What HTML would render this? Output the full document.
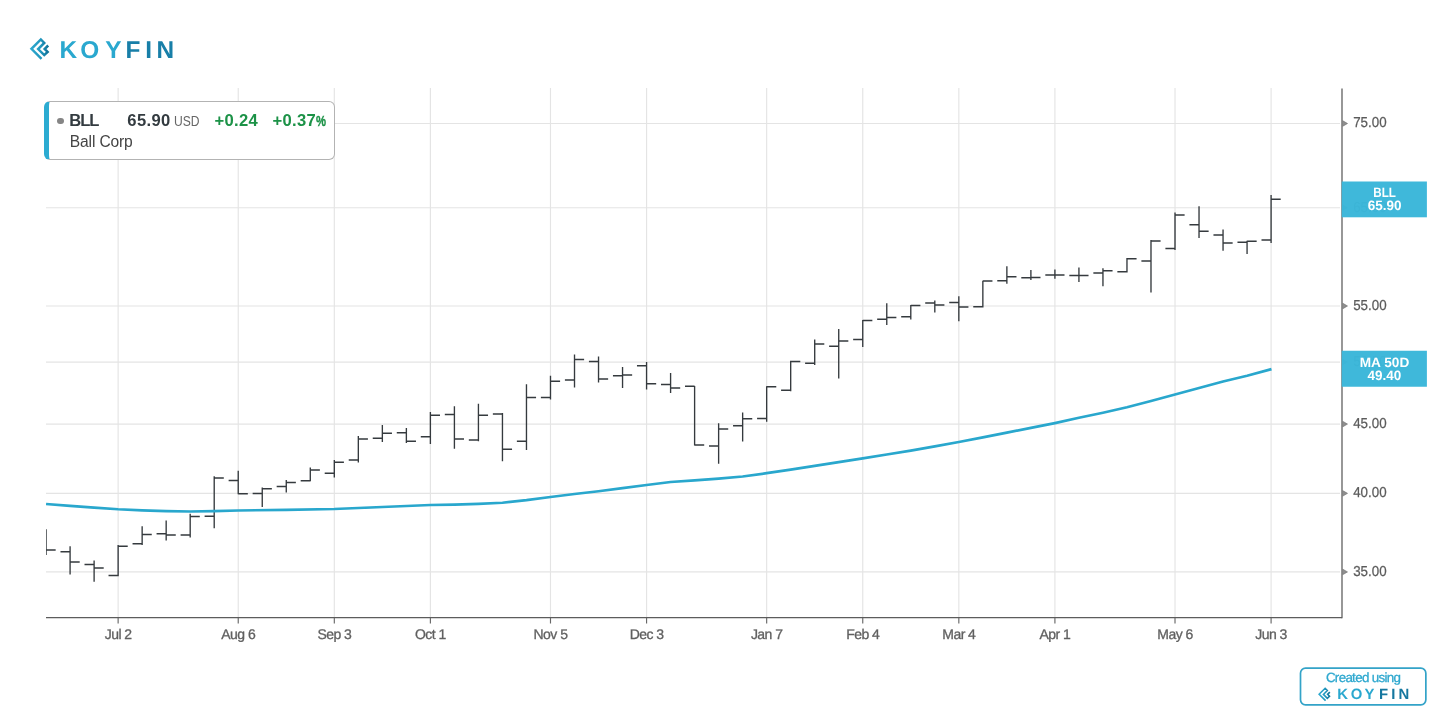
<!DOCTYPE html>
<html lang="en">
<head>
<meta charset="utf-8">
<title>BLL - Ball Corp - Koyfin</title>
<style>
html,body{margin:0;padding:0;background:#fff;}
body{width:1456px;height:728px;position:relative;overflow:hidden;font-family:"Liberation Sans",Arial,sans-serif;}
.chart{position:absolute;left:0;top:0;}
.logo{position:absolute;left:0;top:0;}
.legend{position:absolute;left:44px;top:101px;width:285px;height:57px;background:#fff;border:1px solid #b3b3b3;border-left:5px solid #2cabd1;border-radius:6px;box-sizing:content-box;}
.legend .dot{position:absolute;left:8.4px;top:15.6px;width:6.4px;height:6.4px;border-radius:50%;background:#858585;}
.legend span{position:absolute;white-space:nowrap;line-height:1;}
.tk{left:20.3px;top:10.6px;font-weight:bold;font-size:16.6px;color:#333b40;letter-spacing:-1.1px;}
.px{left:78.3px;top:10.6px;font-weight:bold;font-size:16.6px;color:#333b40;letter-spacing:0.35px;}
.cur{left:124.6px;top:12.4px;font-size:14px;color:#666;transform:scaleX(0.865);transform-origin:0 0;}
.ch1{left:165.5px;top:10.6px;font-weight:bold;font-size:16.6px;color:#1c9247;letter-spacing:0.3px;}
.ch2{left:223.5px;top:10.6px;font-weight:bold;font-size:16.6px;color:#1c9247;letter-spacing:0.3px;}
.ch2 small{font-size:15.2px;letter-spacing:0;display:inline-block;transform:scaleX(0.74);transform-origin:0 100%;margin-left:0.2px;-webkit-text-stroke:0.35px #1c9247;}
.nm{left:20.8px;top:31.5px;font-size:15.6px;color:#444;letter-spacing:-0.15px;}
.badge{position:absolute;left:1299px;top:667px;width:130px;height:40px;}
.badge svg{position:absolute;left:0;top:0;}
</style>
</head>
<body>
<svg class="chart" width="1456" height="728" viewBox="0 0 1456 728">
<g stroke="#e4e4e4" stroke-width="1.15" fill="none">
<line x1="118.13" y1="88" x2="118.13" y2="617"/>
<line x1="238.23" y1="88" x2="238.23" y2="617"/>
<line x1="334.31" y1="88" x2="334.31" y2="617"/>
<line x1="430.39" y1="88" x2="430.39" y2="617"/>
<line x1="550.49" y1="88" x2="550.49" y2="617"/>
<line x1="646.57" y1="88" x2="646.57" y2="617"/>
<line x1="766.67" y1="88" x2="766.67" y2="617"/>
<line x1="862.75" y1="88" x2="862.75" y2="617"/>
<line x1="958.83" y1="88" x2="958.83" y2="617"/>
<line x1="1054.91" y1="88" x2="1054.91" y2="617"/>
<line x1="1175.01" y1="88" x2="1175.01" y2="617"/>
<line x1="1271.09" y1="88" x2="1271.09" y2="617"/>
<line x1="46" y1="123.5" x2="1340" y2="123.5"/>
<line x1="46" y1="207.7" x2="1340" y2="207.7"/>
<line x1="46" y1="306.0" x2="1340" y2="306.0"/>
<line x1="46" y1="362.08" x2="1340" y2="362.08"/>
<line x1="46" y1="424.07" x2="1340" y2="424.07"/>
<line x1="46" y1="493.37" x2="1340" y2="493.37"/>
<line x1="46" y1="571.94" x2="1340" y2="571.94"/>
</g>
<g font-family="'Liberation Sans', Arial, sans-serif" font-size="14.4" fill="#5c5c5c" stroke="#5c5c5c" stroke-width="0.25" text-rendering="geometricPrecision">
<path d="M1342.5 120.6 L1347.5 123.5 L1342.5 126.4 Z" fill="#8f8f8f" stroke="#6c6c6c" stroke-width="0.6"/>
<text x="1353.2" y="127.45" textLength="33.4" lengthAdjust="spacingAndGlyphs">75.00</text>
<path d="M1342.5 204.8 L1347.5 207.7 L1342.5 210.6 Z" fill="#8f8f8f" stroke="#6c6c6c" stroke-width="0.6"/>
<text x="1353.2" y="211.65" textLength="33.4" lengthAdjust="spacingAndGlyphs">65.00</text>
<path d="M1342.5 303.1 L1347.5 306.0 L1342.5 308.9 Z" fill="#8f8f8f" stroke="#6c6c6c" stroke-width="0.6"/>
<text x="1353.2" y="309.95" textLength="33.4" lengthAdjust="spacingAndGlyphs">55.00</text>
<path d="M1342.5 359.18 L1347.5 362.08 L1342.5 364.98 Z" fill="#8f8f8f" stroke="#6c6c6c" stroke-width="0.6"/>
<text x="1353.2" y="366.03" textLength="33.4" lengthAdjust="spacingAndGlyphs">50.00</text>
<path d="M1342.5 421.17 L1347.5 424.07 L1342.5 426.97 Z" fill="#8f8f8f" stroke="#6c6c6c" stroke-width="0.6"/>
<text x="1353.2" y="428.02" textLength="33.4" lengthAdjust="spacingAndGlyphs">45.00</text>
<path d="M1342.5 490.47 L1347.5 493.37 L1342.5 496.27 Z" fill="#8f8f8f" stroke="#6c6c6c" stroke-width="0.6"/>
<text x="1353.2" y="497.32" textLength="33.4" lengthAdjust="spacingAndGlyphs">40.00</text>
<path d="M1342.5 569.04 L1347.5 571.94 L1342.5 574.84 Z" fill="#8f8f8f" stroke="#6c6c6c" stroke-width="0.6"/>
<text x="1353.2" y="575.89" textLength="33.4" lengthAdjust="spacingAndGlyphs">35.00</text>
</g>
<clipPath id="plot"><rect x="46.1" y="88" width="1296" height="530"/></clipPath>
<g stroke="#353a3e" stroke-width="1.35" fill="none" stroke-linecap="butt" clip-path="url(#plot)">
<path d="M46.07 529.25V555M46.07 550H55.67"/>
<path d="M70.09 546.25V574.5M60.49 551.75H70.09M70.09 562H79.69"/>
<path d="M94.11 560.5V581.75M84.51 564.5H94.11M94.11 568H103.71"/>
<path d="M118.13 545V576.25M108.53 575.5H118.13M118.13 546.25H127.72999999999999"/>
<path d="M142.15 526.25V545M132.55 543.75H142.15M142.15 534.5H151.75"/>
<path d="M166.17 520.5V540.5M156.57 533.75H166.17M166.17 535H175.76999999999998"/>
<path d="M190.19 513.75V537.5M180.59 535H190.19M190.19 516.5H199.79"/>
<path d="M214.21 476.25V528.25M204.61 516.25H214.21M214.21 478H223.81"/>
<path d="M238.23 470.75V494.25M228.63 480.5H238.23M238.23 493.75H247.82999999999998"/>
<path d="M262.25 487.5V507M252.65 493.5H262.25M262.25 488.75H271.85"/>
<path d="M286.27 480V492.5M276.66999999999996 486.5H286.27M286.27 482.5H295.87"/>
<path d="M310.29 467.5V481.25M300.69 480.75H310.29M310.29 470H319.89000000000004"/>
<path d="M334.31 460V477.5M324.71 473.25H334.31M334.31 462.25H343.91"/>
<path d="M358.33 436V462.5M348.72999999999996 460H358.33M358.33 439H367.93"/>
<path d="M382.35 425V442M372.75 438.25H382.35M382.35 433.25H391.95000000000005"/>
<path d="M406.37 428V443M396.77 432.75H406.37M406.37 441.25H415.97"/>
<path d="M430.39 412V444M420.78999999999996 436.75H430.39M430.39 415.25H439.99"/>
<path d="M454.41 406.25V448.75M444.81 414.5H454.41M454.41 439H464.01000000000005"/>
<path d="M478.43 403.75V441.25M468.83 440H478.43M478.43 415.25H488.03000000000003"/>
<path d="M502.45 413V461.25M492.84999999999997 414H502.45M502.45 449.25H512.05"/>
<path d="M526.47 384.25V450M516.87 441.25H526.47M526.47 397.5H536.07"/>
<path d="M550.49 375.75V399.5M540.89 397.5H550.49M550.49 381.25H560.09"/>
<path d="M574.51 354.5V387.5M564.91 380H574.51M574.51 359.5H584.11"/>
<path d="M598.53 356.5V382.5M588.93 361.5H598.53M598.53 379H608.13"/>
<path d="M622.55 367V388M612.9499999999999 375.75H622.55M622.55 375H632.15"/>
<path d="M646.57 362V389.5M636.97 365.75H646.57M646.57 383.75H656.1700000000001"/>
<path d="M670.59 373V393M660.99 384.5H670.59M670.59 388H680.19"/>
<path d="M694.61 386V445.5M685.01 386.25H694.61M694.61 445H704.21"/>
<path d="M718.63 423.25V463.75M709.03 446H718.63M718.63 429H728.23"/>
<path d="M742.65 412.5V441.5M733.05 425.75H742.65M742.65 418.75H752.25"/>
<path d="M766.67 386.25V421.75M757.0699999999999 418.5H766.67M766.67 386.75H776.27"/>
<path d="M790.69 360.75V391.25M781.09 390.25H790.69M790.69 361.5H800.2900000000001"/>
<path d="M814.71 339.5V365M805.11 363.25H814.71M814.71 344H824.3100000000001"/>
<path d="M838.73 329V378.5M829.13 346.25H838.73M838.73 341H848.33"/>
<path d="M862.75 320V347M853.15 339.5H862.75M862.75 320.5H872.35"/>
<path d="M886.77 303.25V325M877.17 319.25H886.77M886.77 317.5H896.37"/>
<path d="M910.79 305V319.5M901.1899999999999 316.75H910.79M910.79 305.5H920.39"/>
<path d="M934.81 300.5V312.5M925.2099999999999 303H934.81M934.81 305H944.41"/>
<path d="M958.83 296.25V321.25M949.23 302.5H958.83M958.83 307H968.4300000000001"/>
<path d="M982.85 280.75V307.5M973.25 306.75H982.85M982.85 281H992.45"/>
<path d="M1006.87 266.25V283.75M997.27 280.75H1006.87M1006.87 276.75H1016.47"/>
<path d="M1030.89 270V280M1021.2900000000001 277.75H1030.89M1030.89 277.5H1040.49"/>
<path d="M1054.91 269.5V278.75M1045.3100000000002 275H1054.91M1054.91 275H1064.51"/>
<path d="M1078.93 267.5V282M1069.3300000000002 275.5H1078.93M1078.93 275.5H1088.53"/>
<path d="M1102.95 268.25V286.25M1093.3500000000001 273H1102.95M1102.95 270.75H1112.55"/>
<path d="M1126.97 258V272.5M1117.3700000000001 271.75H1126.97M1126.97 258.75H1136.57"/>
<path d="M1150.99 240V292.5M1141.39 261H1150.99M1150.99 241H1160.59"/>
<path d="M1175.01 212.5V250M1165.41 248.5H1175.01M1175.01 215H1184.61"/>
<path d="M1199.03 206.25V238M1189.43 224.75H1199.03M1199.03 231.25H1208.6299999999999"/>
<path d="M1223.05 229.5V250.75M1213.45 235H1223.05M1223.05 243H1232.6499999999999"/>
<path d="M1247.07 240.75V254M1237.47 242.25H1247.07M1247.07 241.25H1256.6699999999998"/>
<path d="M1271.09 195V243M1261.49 240H1271.09M1271.09 199.25H1280.6899999999998"/>
</g>
<polyline points="46.07,504 70.09,505.8 94.11,507.6 118.13,509.25 142.15,510.3 166.17,511.1 190.19,511.5 214.21,511.1 238.23,510.5 286.27,509.8 334.31,509 382.35,507 430.39,505 454.41,504.6 478.43,503.8 502.45,502.75 526.47,500.2 550.49,497 574.51,494 598.53,491.25 622.55,488.2 646.57,485 670.59,482 694.61,480.3 718.63,478.6 742.65,476.5 766.67,473.2 790.69,469.6 814.71,465.9 838.73,462.2 862.75,458.4 886.77,454.5 910.79,450.6 934.81,446.4 958.83,442 982.85,437.4 1006.87,432.6 1030.89,427.9 1054.91,423.1 1078.93,417.8 1102.95,412.7 1126.97,407.2 1150.99,401 1175.01,394.5 1199.03,388 1223.05,381.5 1247.07,375.8 1271.49,369.15" fill="none" stroke="#29a7cd" stroke-width="2.7" stroke-linejoin="round" stroke-linecap="butt"/>
<g stroke="#828282" stroke-width="1.65" fill="none">
<line x1="1342" y1="88.4" x2="1342" y2="618.2"/>
<line x1="46" y1="617.5" x2="1342" y2="617.5" stroke="#5c5c5c" stroke-width="1.25"/>
</g>
<g stroke="#686868" stroke-width="1.15" fill="none">
<line x1="118.13" y1="618" x2="118.13" y2="623.5"/>
<line x1="238.23" y1="618" x2="238.23" y2="623.5"/>
<line x1="334.31" y1="618" x2="334.31" y2="623.5"/>
<line x1="430.39" y1="618" x2="430.39" y2="623.5"/>
<line x1="550.49" y1="618" x2="550.49" y2="623.5"/>
<line x1="646.57" y1="618" x2="646.57" y2="623.5"/>
<line x1="766.67" y1="618" x2="766.67" y2="623.5"/>
<line x1="862.75" y1="618" x2="862.75" y2="623.5"/>
<line x1="958.83" y1="618" x2="958.83" y2="623.5"/>
<line x1="1054.91" y1="618" x2="1054.91" y2="623.5"/>
<line x1="1175.01" y1="618" x2="1175.01" y2="623.5"/>
<line x1="1271.09" y1="618" x2="1271.09" y2="623.5"/>
</g>
<g font-family="'Liberation Sans', Arial, sans-serif" font-size="14" fill="#606060" stroke="#606060" stroke-width="0.3" text-anchor="middle" letter-spacing="-0.55" text-rendering="geometricPrecision">
<text x="118.13" y="639.4">Jul 2</text>
<text x="238.23" y="639.4">Aug 6</text>
<text x="334.31" y="639.4">Sep 3</text>
<text x="430.39" y="639.4">Oct 1</text>
<text x="550.49" y="639.4">Nov 5</text>
<text x="646.57" y="639.4">Dec 3</text>
<text x="766.67" y="639.4">Jan 7</text>
<text x="862.75" y="639.4">Feb 4</text>
<text x="958.83" y="639.4">Mar 4</text>
<text x="1054.91" y="639.4">Apr 1</text>
<text x="1175.01" y="639.4">May 6</text>
<text x="1271.09" y="639.4">Jun 3</text>
</g>
<g class="tag"><rect x="1341.7" y="181.5" width="85.2" height="35.8" fill="#3ab6d9" fill-opacity="0.975"/>
<text font-family="'Liberation Sans', Arial, sans-serif" font-weight="bold" font-size="13.6" fill="#fff" text-anchor="middle" text-rendering="geometricPrecision"><tspan x="1384.6" y="196.8" textLength="22.6" lengthAdjust="spacingAndGlyphs">BLL</tspan><tspan x="1384.6" y="210.1" textLength="33.8" lengthAdjust="spacingAndGlyphs">65.90</tspan></text></g>
<g class="tag"><rect x="1341.7" y="350.75" width="85.2" height="36.0" fill="#3ab6d9" fill-opacity="0.975"/>
<text font-family="'Liberation Sans', Arial, sans-serif" font-weight="bold" font-size="13.6" fill="#fff" text-anchor="middle" text-rendering="geometricPrecision"><tspan x="1384.5" y="366.6" textLength="49.5" lengthAdjust="spacingAndGlyphs">MA 50D</tspan><tspan x="1384.5" y="379.7" textLength="33.8" lengthAdjust="spacingAndGlyphs">49.40</tspan></text></g>
</svg>
<svg class="logo" width="200" height="80" viewBox="0 0 200 80">
<defs><linearGradient id="lg" gradientUnits="userSpaceOnUse" x1="30" y1="48" x2="49" y2="48"><stop offset="0" stop-color="#2eaad0"/><stop offset="0.55" stop-color="#2198bf"/><stop offset="1" stop-color="#0f6e94"/></linearGradient>
<linearGradient id="kf1" gradientUnits="userSpaceOnUse" x1="0" y1="0" x2="200" y2="0"><stop offset="0.62" stop-color="#2aa8cf"/><stop offset="0.62" stop-color="#187fa8"/></linearGradient>
<linearGradient id="kf2" gradientUnits="userSpaceOnUse" x1="0" y1="0" x2="130" y2="0"><stop offset="0.607" stop-color="#2aa8cf"/><stop offset="0.607" stop-color="#15779f"/></linearGradient></defs>
<polyline points="41.52,58.87 31.48,48.82 40.82,39.48 44.23,42.98 38.16,49.06 44.23,55.13 47.6,51.95 44.65,49.01 48.16,45.5" fill="none" stroke="url(#lg)" stroke-width="2.5" stroke-linejoin="miter"/>
<text font-family="'Liberation Sans', Arial, sans-serif" font-weight="bold" font-size="24.4" x="59.6 80.2 105.2 125.6 145.3 156.4" y="57.5" fill="url(#kf1)" text-rendering="geometricPrecision">KOYFIN</text>
</svg>
<div class="legend"><i class="dot"></i><span class="tk">BLL</span><span class="px">65.90</span><span class="cur">USD</span><span class="ch1">+0.24</span><span class="ch2">+0.37<small>%</small></span><span class="nm">Ball Corp</span></div>
<div class="badge"><svg width="130" height="40" viewBox="0 0 130 40">
<rect x="1.5" y="1.15" width="125.35" height="36.7" rx="5" ry="5" fill="#fff" stroke="#33a3c8" stroke-width="1.7"/>
<text font-family="'Liberation Sans', Arial, sans-serif" font-size="13.4" x="64.4" y="14.75" text-anchor="middle" fill="#2ea8cf" stroke="#2ea8cf" stroke-width="0.3" textLength="75" lengthAdjust="spacing" text-rendering="geometricPrecision">Created using</text>
<g transform="translate(0,-4.0) scale(0.64)"><polyline points="41.52,58.87 31.48,48.82 40.82,39.48 44.23,42.98 38.16,49.06 44.23,55.13 47.6,51.95 44.65,49.01 48.16,45.5" fill="none" stroke="url(#lg)" stroke-width="2.5" stroke-linejoin="miter"/></g>
<text font-family="'Liberation Sans', Arial, sans-serif" font-weight="bold" font-size="14.9" x="38.3 51.8 65.5 80.1 92.2 99.5" y="32.4" fill="url(#kf2)" text-rendering="geometricPrecision">KOYFIN</text>
</svg></div>
</body>
</html>
